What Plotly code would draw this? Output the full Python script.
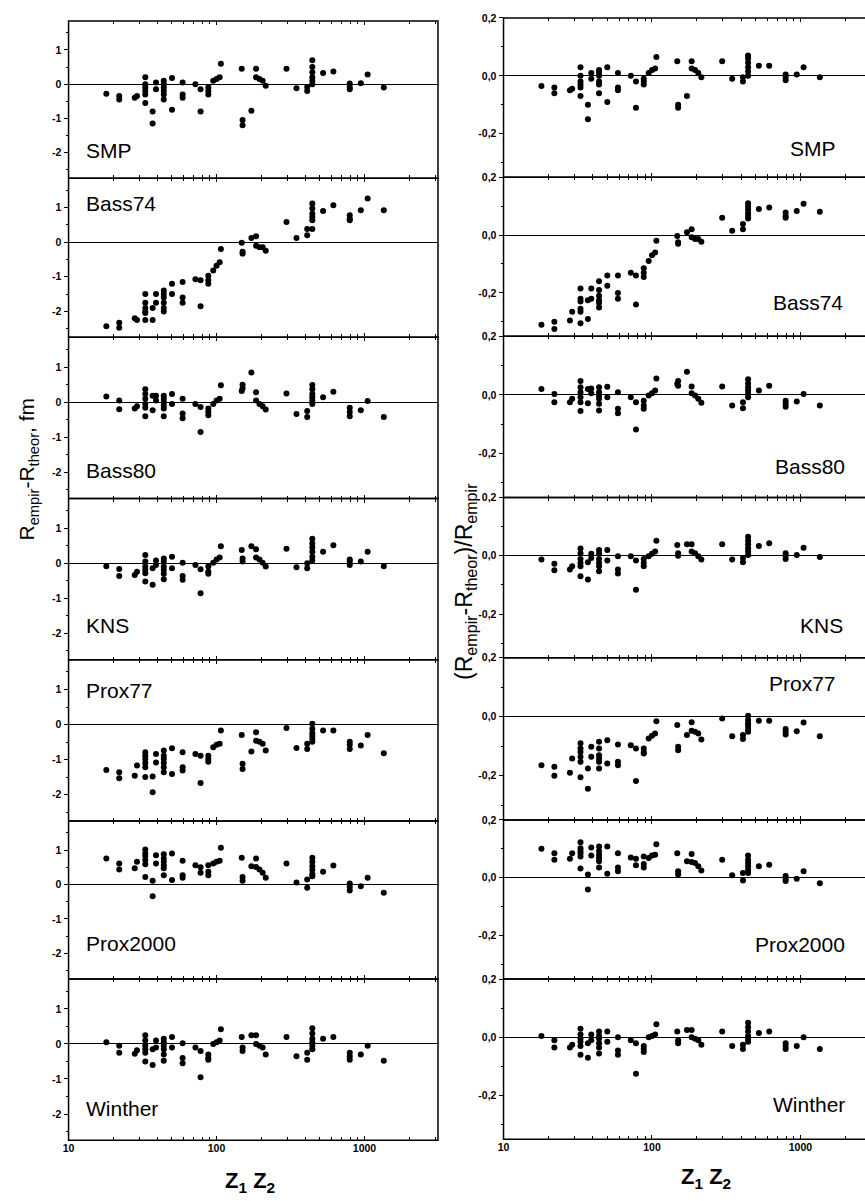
import plotly.graph_objects as go

# ---------------- data ----------------
Z1Z2 = [18, 22, 22, 28, 29, 33, 33, 33, 33, 33, 33, 37, 37, 39, 39, 44, 44, 44, 44, 44, 44,
        50, 50, 59, 59, 59, 72, 78, 78, 88, 88, 88, 95, 100, 105, 107, 148, 150, 150, 172,
        185, 185, 195, 205, 215, 297, 347, 410, 410, 444, 444, 444, 444, 444, 444, 525, 616,
        795, 795, 795, 944, 1050, 1350]

MODELS = ["SMP", "Bass74", "Bass80", "KNS", "Prox77", "Prox2000", "Winther"]

SMP_ABS = [-0.28, -0.35, -0.45, -0.4, -0.35, 0.2, 0.0, -0.1, -0.2, -0.3, -0.55, -0.8, -1.15, 0.05, -0.15,
           0.1, 0.0, -0.1, -0.2, -0.3, -0.45, 0.18, -0.75, 0.05, -0.3, -0.4, 0.0, -0.15, -0.8, -0.1, -0.2,
           -0.3, 0.1, 0.15, 0.2, 0.6, 0.45, -1.05, -1.2, -0.78, 0.45, 0.2, 0.15, 0.1, -0.05, 0.45, -0.12,
           -0.2, -0.08, 0.7, 0.5, 0.35, 0.2, 0.1, 0.0, 0.33, 0.37, 0.02, -0.08, -0.15, 0.03, 0.28, -0.1]
SMP_REL = [-0.035, -0.04, -0.06, -0.05, -0.045, 0.03, 0.0, -0.02, -0.03, -0.04, -0.07, -0.1, -0.15, 0.01,
           -0.01, 0.02, 0.01, 0.0, -0.02, -0.03, -0.06, 0.03, -0.09, 0.01, -0.04, -0.05, 0.0, -0.02, -0.11,
           -0.01, -0.02, -0.03, 0.01, 0.02, 0.025, 0.065, 0.05, -0.1, -0.11, -0.07, 0.05, 0.025, 0.02, 0.01,
           -0.005, 0.05, -0.01, -0.02, -0.005, 0.07, 0.06, 0.045, 0.03, 0.015, 0.0, 0.035, 0.035, 0.005,
           -0.005, -0.015, 0.005, 0.03, -0.005]

BASS74_ABS = [-2.43, -2.33, -2.47, -2.2, -2.25, -1.5, -1.75, -1.9, -2.0, -2.05, -2.25, -1.9, -2.25, -1.5,
              -1.75, -1.4, -1.5, -1.6, -1.75, -1.9, -2.0, -1.2, -1.5, -1.15, -1.6, -1.75, -1.07, -1.1, -1.85,
              -0.97, -1.1, -1.2, -0.82, -0.68, -0.58, -0.2, -0.02, -0.33, -0.28, 0.12, 0.17, -0.1, -0.15,
              -0.15, -0.25, 0.58, 0.12, 0.2, 0.38, 1.12, 0.97, 0.82, 0.73, 0.63, 0.38, 0.9, 1.07, 0.78, 0.68,
              0.63, 0.92, 1.26, 0.92]
BASS74_REL = [-0.31, -0.3, -0.325, -0.295, -0.265, -0.185, -0.22, -0.23, -0.255, -0.265, -0.305, -0.29,
              -0.225, -0.185, -0.22, -0.16, -0.19, -0.21, -0.225, -0.235, -0.25, -0.14, -0.175, -0.14, -0.2,
              -0.22, -0.13, -0.14, -0.24, -0.115, -0.13, -0.145, -0.09, -0.07, -0.06, -0.02, -0.003, -0.03,
              -0.025, 0.01, 0.02, -0.008, -0.014, -0.014, -0.023, 0.06, 0.015, 0.02, 0.038, 0.11, 0.098,
              0.087, 0.075, 0.066, 0.057, 0.09, 0.095, 0.078, 0.066, 0.06, 0.083, 0.108, 0.08]

BASS80_ABS = [0.16, 0.05, -0.2, -0.18, -0.12, 0.37, 0.23, 0.1, -0.05, -0.16, -0.4, -0.23, 0.18, 0.18, 0.05,
              0.18, 0.1, 0.0, -0.1, -0.18, -0.4, 0.23, -0.05, 0.1, -0.32, -0.46, -0.05, -0.14, -0.85, -0.18,
              -0.28, -0.37, -0.05, 0.05, 0.1, 0.48, 0.32, 0.5, 0.4, 0.85, 0.28, 0.05, -0.05, -0.12, -0.21,
              0.25, -0.34, -0.42, -0.25, 0.49, 0.37, 0.23, 0.14, 0.05, -0.05, 0.14, 0.3, -0.16, -0.28, -0.4,
              -0.23, 0.03, -0.42]
BASS80_REL = [0.02, 0.003, -0.025, -0.025, -0.013, 0.048, 0.026, 0.009, -0.008, -0.025, -0.055, -0.028,
              0.02, 0.022, 0.006, 0.026, 0.009, -0.002, -0.013, -0.03, -0.053, 0.028, -0.008, 0.009, -0.047,
              -0.062, -0.008, -0.025, -0.118, -0.02, -0.036, -0.047, -0.002, 0.006, 0.015, 0.056, 0.037,
              0.048, 0.031, 0.079, 0.029, 0.006, -0.002, -0.013, -0.027, 0.029, -0.036, -0.045, -0.025,
              0.054, 0.039, 0.026, 0.015, 0.003, -0.008, 0.015, 0.031, -0.02, -0.03, -0.04, -0.022, 0.003,
              -0.036]

KNS_ABS = [-0.08, -0.16, -0.36, -0.33, -0.24, 0.24, 0.05, -0.09, -0.19, -0.28, -0.52, -0.61, -0.14, 0.08,
           -0.05, 0.14, 0.05, -0.09, -0.19, -0.3, -0.45, 0.19, -0.14, 0.02, -0.36, -0.47, -0.05, -0.17, -0.85,
           -0.09, -0.24, -0.3, 0.02, 0.11, 0.17, 0.49, 0.38, 0.14, 0.05, 0.49, 0.4, 0.17, 0.11, 0.02, -0.09,
           0.42, -0.11, -0.14, 0.0, 0.7, 0.57, 0.45, 0.33, 0.19, 0.08, 0.33, 0.52, 0.11, 0.05, -0.05, 0.05,
           0.33, -0.08]
KNS_REL = [-0.013, -0.027, -0.05, -0.047, -0.036, 0.025, 0.009, -0.011, -0.025, -0.036, -0.07, -0.081,
           -0.022, 0.007, -0.008, 0.02, 0.007, -0.011, -0.025, -0.036, -0.053, 0.02, -0.016, -0.002, -0.047,
           -0.061, -0.002, -0.016, -0.117, -0.011, -0.025, -0.036, -0.002, 0.007, 0.015, 0.052, 0.037, 0.009,
           0.0, 0.04, 0.04, 0.015, 0.009, -0.002, -0.013, 0.04, -0.013, -0.022, -0.008, 0.065, 0.052, 0.04,
           0.026, 0.015, 0.003, 0.034, 0.043, 0.009, 0.0, -0.011, 0.003, 0.028, -0.004]

PROX77_ABS = [-1.3, -1.36, -1.53, -1.46, -1.17, -0.79, -0.89, -0.98, -1.1, -1.22, -1.5, -1.93, -1.48, -0.84,
              -1.08, -0.74, -0.89, -0.98, -1.1, -1.22, -1.36, -0.68, -1.41, -0.79, -1.22, -1.31, -0.84, -0.89,
              -1.67, -0.89, -0.98, -1.06, -0.65, -0.58, -0.55, -0.17, -0.3, -1.12, -1.27, -0.77, -0.22, -0.46,
              -0.49, -0.55, -0.74, -0.1, -0.67, -0.7, -0.55, 0.02, -0.12, -0.24, -0.33, -0.41, -0.49, -0.17,
              -0.17, -0.49, -0.58, -0.7, -0.6, -0.3, -0.82]
PROX77_REL = [-0.165, -0.17, -0.2, -0.19, -0.142, -0.09, -0.108, -0.12, -0.136, -0.153, -0.205, -0.244,
              -0.176, -0.102, -0.136, -0.085, -0.108, -0.131, -0.142, -0.153, -0.176, -0.08, -0.159, -0.094,
              -0.153, -0.165, -0.097, -0.108, -0.218, -0.108, -0.12, -0.125, -0.074, -0.065, -0.057, -0.015,
              -0.028, -0.102, -0.114, -0.062, -0.019, -0.048, -0.051, -0.057, -0.077, -0.006, -0.066, -0.076,
              -0.062, 0.003, -0.011, -0.023, -0.031, -0.042, -0.051, -0.014, -0.014, -0.042, -0.051, -0.06,
              -0.049, -0.02, -0.066]

PROX2000_ABS = [0.76, 0.61, 0.44, 0.47, 0.66, 1.02, 0.9, 0.83, 0.71, 0.59, 0.22, -0.34, 0.11, 0.85, 0.61,
                0.88, 0.76, 0.66, 0.56, 0.47, 0.27, 0.9, 0.13, 0.69, 0.27, 0.2, 0.56, 0.5, 0.34, 0.56, 0.37,
                0.27, 0.61, 0.66, 0.69, 1.07, 0.78, 0.22, 0.11, 0.53, 0.76, 0.51, 0.44, 0.34, 0.2, 0.61, 0.06,
                -0.09, 0.15, 0.78, 0.66, 0.53, 0.42, 0.3, 0.24, 0.37, 0.55, 0.03, -0.07, -0.17, -0.05, 0.2,
                -0.24]
PROX2000_REL = [0.1, 0.085, 0.062, 0.066, 0.085, 0.123, 0.102, 0.093, 0.085, 0.074, 0.032, -0.04, 0.011,
                0.105, 0.077, 0.108, 0.093, 0.08, 0.068, 0.057, 0.036, 0.108, 0.014, 0.085, 0.036, 0.023,
                0.07, 0.066, 0.043, 0.074, 0.048, 0.036, 0.068, 0.077, 0.08, 0.116, 0.085, 0.023, 0.011,
                0.057, 0.082, 0.055, 0.051, 0.04, 0.025, 0.062, 0.009, -0.009, 0.017, 0.077, 0.062, 0.051,
                0.04, 0.028, 0.017, 0.04, 0.045, 0.006, -0.006, -0.011, -0.003, 0.023, -0.019]

WINTHER_ABS = [0.05, -0.05, -0.25, -0.28, -0.18, 0.25, 0.1, -0.05, -0.15, -0.25, -0.5, -0.6, -0.15, 0.1,
               -0.1, 0.15, 0.05, -0.05, -0.15, -0.3, -0.48, 0.2, -0.1, 0.02, -0.4, -0.55, -0.1, -0.2, -0.95,
               -0.3, -0.4, -0.45, 0.0, 0.05, 0.1, 0.42, 0.2, -0.1, -0.2, 0.25, 0.25, 0.0, -0.05, -0.1, -0.3,
               0.2, -0.35, -0.45, -0.25, 0.45, 0.3, 0.15, 0.05, -0.05, -0.15, 0.15, 0.2, -0.25, -0.35, -0.45,
               -0.3, -0.05, -0.48]
WINTHER_REL = [0.005, -0.01, -0.035, -0.035, -0.025, 0.03, 0.01, -0.005, -0.015, -0.03, -0.06, -0.07, -0.02,
               0.01, -0.01, 0.02, 0.005, -0.005, -0.02, -0.035, -0.055, 0.02, -0.015, 0.0, -0.045, -0.06,
               -0.01, -0.02, -0.125, -0.03, -0.04, -0.05, 0.0, 0.005, 0.01, 0.045, 0.02, -0.01, -0.02, 0.025,
               0.025, 0.0, -0.005, -0.01, -0.025, 0.02, -0.03, -0.04, -0.025, 0.05, 0.035, 0.02, 0.005,
               -0.005, -0.015, 0.015, 0.02, -0.02, -0.03, -0.04, -0.03, 0.0, -0.04]

ABS_SERIES = [SMP_ABS, BASS74_ABS, BASS80_ABS, KNS_ABS, PROX77_ABS, PROX2000_ABS, WINTHER_ABS]
REL_SERIES = [SMP_REL, BASS74_REL, BASS80_REL, KNS_REL, PROX77_REL, PROX2000_REL, WINTHER_REL]
for s in ABS_SERIES + REL_SERIES:
    assert len(s) == len(Z1Z2), len(s)

X_TICKS = [10, 100, 1000]
X_TICK_TEXT = ["10", "100", "1000"]
X_MINOR = [20, 30, 40, 50, 60, 70, 80, 90, 200, 300, 400, 500, 600, 700, 800, 900, 2000, 3000]
ABS_TICKS = [-2, -1, 0, 1]
ABS_TICK_TEXT = ["-2", "-1", "0", "1"]
ABS_MINOR = [-2.5, -1.5, -0.5, 0.5, 1.5]
REL_TICKS = [-0.2, 0.0, 0.2]
REL_TICK_TEXT = ["-0,2", "0,0", "0,2"]
REL_MINOR = [-0.3, -0.1, 0.1]

# ---------------- layout geometry (pixels) ----------------
W, H = 865, 1201
FONT = "Liberation Sans, Arial, Helvetica, sans-serif"
LEFT_X = (63, 435)
RIGHT_X = (501, 865)
LEFT_TOPS = [15, 173, 333, 495, 657, 819, 978, 1140]
RIGHT_TOPS = [12, 172, 332, 494, 655, 818, 978, 1139]


def py(p):
    return 1 - p / H


fig = go.Figure()
layout = dict(
    width=W, height=H, margin=dict(l=0, r=0, t=0, b=0),
    paper_bgcolor="white", plot_bgcolor="white", showlegend=False,
    font=dict(family=FONT, color="black"),
)
annotations = []
shapes = []

for col in range(2):
    for r in range(7):
        k = col * 7 + r + 1
        xname = "xaxis" if k == 1 else f"xaxis{k}"
        yname = "yaxis" if k == 1 else f"yaxis{k}"
        xref = "x" if k == 1 else f"x{k}"
        yref = "y" if k == 1 else f"y{k}"
        data = ABS_SERIES[r] if col == 0 else REL_SERIES[r]
        fig.add_trace(go.Scatter(
            x=Z1Z2, y=data, mode="markers",
            marker=dict(size=6, color="black", line=dict(width=0)),
            xaxis=xref, yaxis=yref, hoverinfo="skip", showlegend=False,
        ))
        if col == 0:
            x0, x1 = LEFT_X
            tops = LEFT_TOPS
            xrange = [1, 1 + (x1 - x0) / 149.0]
        else:
            x0, x1 = RIGHT_X
            tops = RIGHT_TOPS
            xrange = [1, 1 + (x1 - x0) / 149.5]
        top, bot = tops[r], tops[r + 1]
        bottom_row = (r == 6)
        layout[xname] = dict(
            type="log", range=xrange, domain=[x0 / W, x1 / W], anchor=yref,
            showline=False, mirror="ticks",
            ticks="inside", ticklen=4, tickwidth=1, tickcolor="black",
            tickvals=X_TICKS, ticktext=X_TICK_TEXT,
            minor=dict(tickvals=X_MINOR, ticks="inside", ticklen=3, tickwidth=1, tickcolor="black"),
            showticklabels=bottom_row,
            tickfont=dict(family=FONT, size=10.5, color="black", weight="bold"),
            showgrid=False, zeroline=False, fixedrange=True,
        )
        if col == 0:
            yaxis = dict(range=[-2.75, 1.85], tickvals=ABS_TICKS, ticktext=ABS_TICK_TEXT,
                         minor=dict(tickvals=ABS_MINOR, ticks="outside", ticklen=2,
                                    tickwidth=1, tickcolor="black"))
        else:
            yaxis = dict(range=[-0.35, 0.2], tickvals=REL_TICKS, ticktext=REL_TICK_TEXT,
                         minor=dict(tickvals=REL_MINOR, ticks="outside", ticklen=2,
                                    tickwidth=1, tickcolor="black"))
        yaxis.update(
            domain=[py(bot), py(top)], anchor=xref,
            showline=False,
            ticks="outside", ticklen=4, tickwidth=1, tickcolor="black",
            tickfont=dict(family=FONT, size=10.5, color="black", weight="bold"),
            showgrid=False, zeroline=True, zerolinecolor="black", zerolinewidth=1.3,
            fixedrange=True,
        )
        layout[yname] = yaxis
        # panel frame
        frame_x1 = x1 / W if col == 0 else 1.2
        shapes.append(dict(
            type="rect", xref="paper", yref="paper",
            x0=x0 / W, x1=frame_x1, y0=py(bot), y1=py(top),
            line=dict(color="black", width=1.5), fillcolor="rgba(0,0,0,0)", layer="above",
        ))

# panel labels
LEFT_LABEL_Y = [145, 198, 467, 623, 688, 942, 1108]
RIGHT_LABEL_Y = [143, 298, 463, 623, 681, 943, 1104]
RIGHT_LABEL_X = [838, 845, 847, 845, 838, 847, 847]
for r, name in enumerate(MODELS):
    annotations.append(dict(
        text=name, xref="paper", yref="paper", x=79 / W, y=py(LEFT_LABEL_Y[r]),
        xanchor="left", yanchor="middle", showarrow=False,
        font=dict(family=FONT, size=21, color="black"),
    ))
    annotations.append(dict(
        text=name, xref="paper", yref="paper", x=RIGHT_LABEL_X[r] / W, y=py(RIGHT_LABEL_Y[r]),
        xanchor="right", yanchor="middle", showarrow=False,
        font=dict(family=FONT, size=21, color="black"),
    ))

# axis titles
annotations.append(dict(
    text="Z<sub>1</sub> Z<sub>2</sub>", xref="paper", yref="paper", x=246 / W, y=py(1182),
    xanchor="center", yanchor="middle", showarrow=False,
    font=dict(family=FONT, size=22, color="black", weight="bold"),
))
annotations.append(dict(
    text="Z<sub>1</sub> Z<sub>2</sub>", xref="paper", yref="paper", x=705 / W, y=py(1178),
    xanchor="center", yanchor="middle", showarrow=False,
    font=dict(family=FONT, size=22, color="black", weight="bold"),
))
annotations.append(dict(
    text="R<sub>empir</sub>-R<sub>theor</sub>, fm", xref="paper", yref="paper", x=22 / W, y=py(465),
    xanchor="center", yanchor="middle", showarrow=False, textangle=-90,
    font=dict(family=FONT, size=21, color="black"),
))
annotations.append(dict(
    text="(R<sub>empir</sub>-R<sub>theor</sub>)/R<sub>empir</sub>", xref="paper", yref="paper",
    x=462 / W, y=py(578),
    xanchor="center", yanchor="middle", showarrow=False, textangle=-90,
    font=dict(family=FONT, size=23, color="black"),
))

layout["annotations"] = annotations
layout["shapes"] = shapes
fig.update_layout(**layout)
fig.write_html("out.html")
